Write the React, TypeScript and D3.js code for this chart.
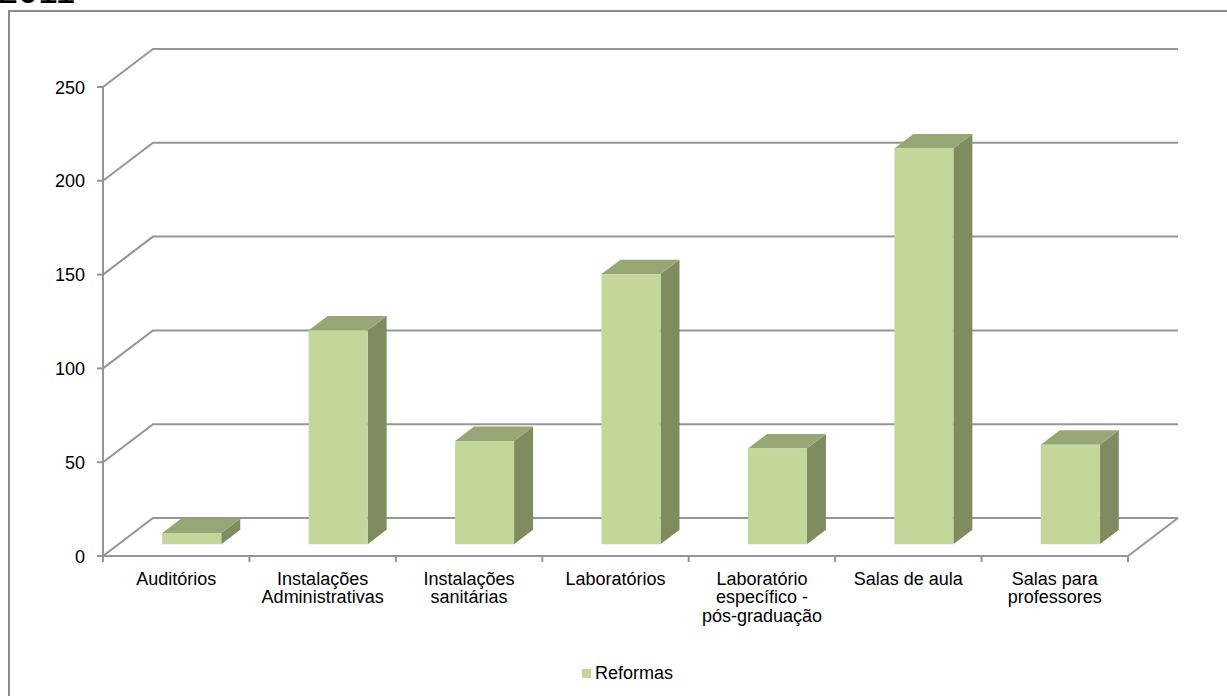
import React from "react";
import * as d3 from "d3";

const categories: string[][] = [
  ["Auditórios"],
  ["Instalações", "Administrativas"],
  ["Instalações", "sanitárias"],
  ["Laboratórios"],
  ["Laboratório", "específico -", "pós-graduação"],
  ["Salas de aula"],
  ["Salas para", "professores"],
];
const reformas: number[] = [6, 114, 55, 144, 51, 211, 53];
const yTicks: number[] = [0, 50, 100, 150, 200, 250];
const seriesName = "Reformas";
const title = "2011";

const W = 1227;
const H = 696;
const DX = 50;
const DY = -38;
const Z0 = 0.31;
const Z1 = 0.69;
const FONT = "'Liberation Sans', Arial, sans-serif";
const GRID = "#959595";

export default function App() {
  const keys = categories.map((c) => c.join(" "));
  const x = d3.scaleBand<string>().domain(keys).range([103, 1128]).paddingInner(0).paddingOuter(0);
  const y = d3.scaleLinear().domain([0, 250]).range([556, 87]);
  const bw = x.bandwidth();
  const barW = bw * 0.403;
  const dz = Z1 - Z0;

  const xLeft = x.range()[0];
  const xRight = x.range()[1];

  return (
    <svg
      width={W}
      height={H}
      style={{ position: "absolute", left: 0, top: 0, background: "#fff" }}
      fontFamily={FONT}
    >
      <rect x={0} y={0} width={W} height={H} fill="#fff" />
      <text x={-2} y={3} fontSize={36} fill="#000">{title}</text>
      {/* outer border */}
      <path d={`M9,${H + 5}V11H${W + 5}`} fill="none" stroke="#8a8a8a" strokeWidth={2} />

      {/* gridlines: left wall diagonals + back wall */}
      {yTicks.map((t) => (
        <path
          key={"g" + t}
          d={`M${xLeft},${y(t)}L${xLeft + DX},${y(t) + DY}H${xRight + DX}`}
          fill="none"
          stroke={GRID}
          strokeWidth={2}
        />
      ))}
      {/* floor right edge */}
      <path d={`M${xRight},${y(0)}L${xRight + DX},${y(0) + DY}`} fill="none" stroke={GRID} strokeWidth={2} />

      {/* bars */}
      {keys.map((k, i) => {
        const v = reformas[i];
        const x0 = (x(k) as number) + (bw - barW) / 2 + Z0 * DX;
        const x1 = x0 + barW;
        const yT = y(v) + Z0 * DY;
        const yB = y(0) + Z0 * DY;
        const ox = dz * DX;
        const oy = dz * DY;
        return (
          <g key={"b" + i}>
            <path
              d={`M${x1},${yT}L${x1 + ox},${yT + oy}V${yB + oy}L${x1},${yB}Z`}
              fill="#7f8c5f"
            />
            <path
              d={`M${x0},${yT}H${x1}L${x1 + ox},${yT + oy}H${x0 + ox}Z`}
              fill="#98a676"
            />
            <rect x={x0} y={yT} width={barW} height={yB - yT} fill="#c4d79b" />
          </g>
        );
      })}

      {/* front axes */}
      <path d={`M${xLeft},${y(250)}V${y(0)}H${xRight}`} fill="none" stroke={GRID} strokeWidth={2} />
      {yTicks.map((t) => (
        <g key={"yt" + t}>
          <line x1={97} x2={xLeft} y1={y(t)} y2={y(t)} stroke={GRID} strokeWidth={2} />
          <text x={85} y={y(t) + 6.5} fontSize={18} textAnchor="end" fill="#000">
            {t}
          </text>
        </g>
      ))}
      {d3.range(keys.length + 1).map((i) => {
        const xx = xLeft + i * bw;
        return <line key={"xt" + i} x1={xx} x2={xx} y1={y(0)} y2={y(0) + 6} stroke={GRID} strokeWidth={2} />;
      })}
      {categories.map((lines, i) => {
        const cx = (x(keys[i]) as number) + bw / 2;
        return (
          <text key={"cl" + i} x={cx} y={585} fontSize={18} textAnchor="middle" fill="#000">
            {lines.map((ln, j) => (
              <tspan key={j} x={cx} dy={j === 0 ? 0 : 18.3}>
                {ln}
              </tspan>
            ))}
          </text>
        );
      })}

      {/* legend */}
      <rect x={582} y={669} width={9} height={9} fill="#c4d79b" />
      <text x={595} y={679} fontSize={18} fill="#000">{seriesName}</text>
    </svg>
  );
}
